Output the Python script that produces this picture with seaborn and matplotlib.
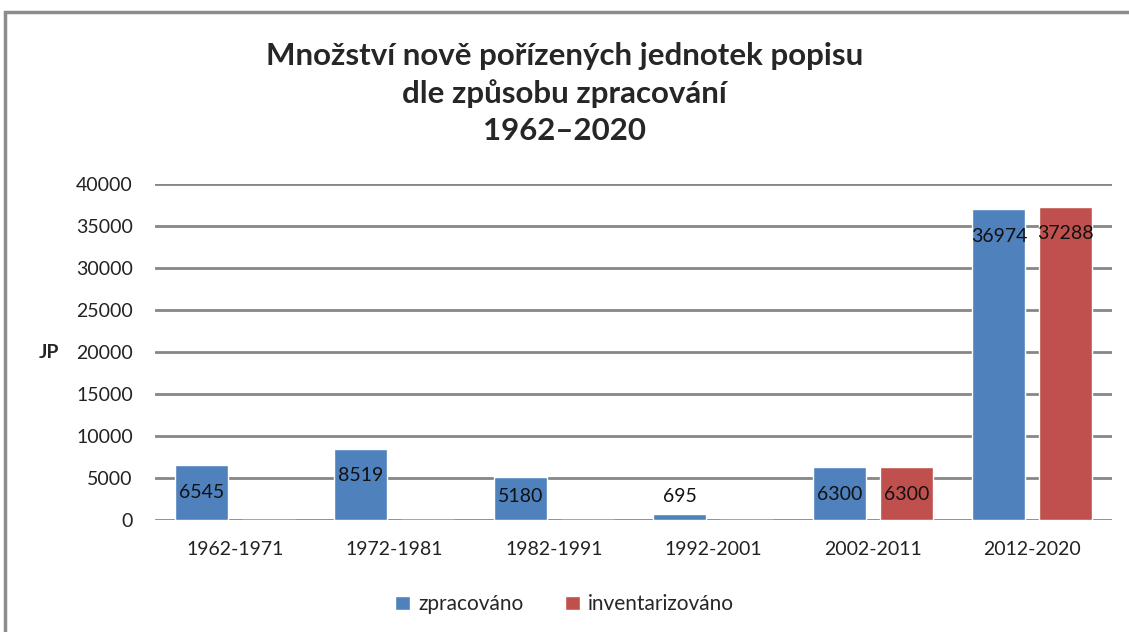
""" Množství nově pořízených jednotek popisu, sloupcový graf. """
import pandas as pd
import seaborn as sns
import matplotlib.pyplot as plt
from matplotlib.patches import Rectangle

periods = ["1962-1971", "1972-1981", "1982-1991", "1992-2001", "2002-2011", "2012-2020"]
zpracovano = [6545, 8519, 5180, 695, 6300, 36974]
inventarizovano = [0, 0, 0, 0, 6300, 37288]
series = ["zpracováno", "inventarizováno"]
colors = ["#4F81BD", "#C0504D"]
title = "Množství nově pořízených jednotek popisu\ndle způsobu zpracování\n1962–2020"

df = pd.DataFrame({
    "obdobi": periods * 2,
    "zpusob": [series[0]] * len(periods) + [series[1]] * len(periods),
    "jp": zpracovano + inventarizovano,
})

sns.set_style("white")
plt.rcParams["font.family"] = ["Lato", "DejaVu Sans"]

fig = plt.figure(figsize=(11.29, 6.32), dpi=100)
ax = fig.add_axes([0.1373, 0.177, 0.8477, 0.532])

sns.barplot(data=df, x="obdobi", y="jp", hue="zpusob", hue_order=series,
            palette=colors, width=0.84, gap=0.21, saturation=1, ax=ax)
ax.set_xlim(-0.5, 5.5)

ax.set_ylim(0, 40000)
ax.set_yticks(range(0, 40001, 5000))
ax.yaxis.grid(True, color="#868686", linewidth=2)
ax.set_axisbelow(True)
for s in ax.spines.values():
    s.set_visible(False)
ax.tick_params(axis="both", length=0, labelsize=14, colors="#222222")
ax.tick_params(axis="y", pad=16)
ax.tick_params(axis="x", pad=15)
ax.set_xlabel("")
ax.set_ylabel("JP", rotation=0, fontweight="bold", fontsize=14, ha="center", va="center")
ax.yaxis.set_label_coords(-0.111, 0.5)

# popisky hodnot uvnitř u vrcholu sloupce
for cont in ax.containers:
    for bar in cont:
        v = bar.get_height()
        if v <= 0:
            continue
        y = max(v - 3200, 2860)
        ax.text(bar.get_x() + bar.get_width() / 2, y, f"{int(v)}",
                ha="center", va="center", fontsize=14, color="#111111")

fig.text(0.5, 0.852, title, ha="center", va="center", fontsize=22.5,
         fontweight="bold", linespacing=1.38)

handles, labels = ax.get_legend_handles_labels()
ax.get_legend().remove()
fig.legend(handles, labels, loc="center", bbox_to_anchor=(0.5, 0.044), ncol=2,
           frameon=False, fontsize=15, handlelength=0.7, handleheight=0.7,
           handletextpad=0.4, columnspacing=2.0)

fig.patches.append(Rectangle((0.0045, -0.1), 1.1, 1.081, transform=fig.transFigure,
                             fill=False, edgecolor="#8C8C8C", linewidth=2.5))

fig.savefig("out.png", dpi=100)
